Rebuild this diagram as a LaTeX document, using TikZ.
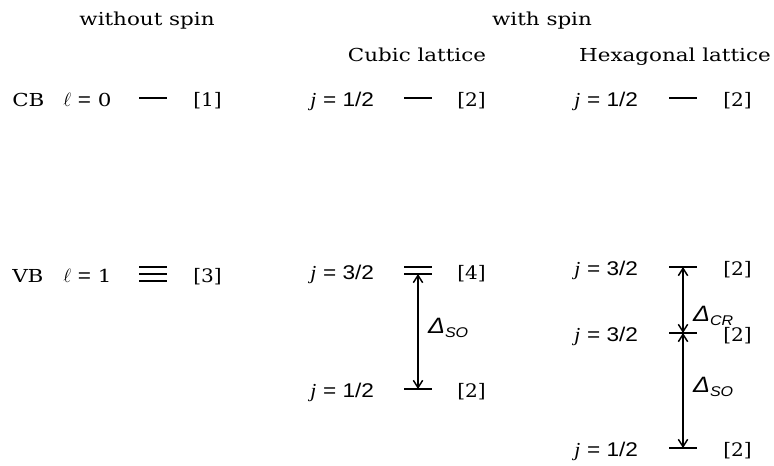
\documentclass[tikz,border=0pt]{standalone}
\usepackage{fontspec}
\setmainfont{DejaVu Serif}[FakeStretch=1.2]
\newfontfamily\brk{DejaVu Serif}[Scale=1.04,FakeStretch=1.08]
\newfontfamily\lsans{Liberation Sans}[Scale=1.11,FakeStretch=1.14]
\newfontfamily\lserif{Liberation Serif}[Scale=1.11,FakeStretch=1.1]
\usetikzlibrary{arrows.meta}
% j = ... label, degeneracy and splitting energy label
\newcommand{\jlab}[1]{{\lserif\itshape j} {\lsans= #1}}
\newcommand{\degen}[1]{{\brk[#1]}}
\newcommand{\gaplab}[1]{{\fontsize{15}{16}\lsans\itshape Δ}\raisebox{-3pt}{\fontsize{9.5}{10}\lsans\itshape #1}}

\begin{document}
\begin{tikzpicture}[x=0.75pt, y=-0.75pt, font=\fontsize{13.4}{16}\selectfont,
  level/.style={line width=2.2pt},
  split/.style={{Straight Barb[length=5.5pt,width=7pt]}-{Straight Barb[length=5.5pt,width=7pt]}, line width=1.1pt},
  txt/.style={anchor=base west, inner sep=0pt},
  gap/.style={anchor=west, inner sep=0pt, xshift=7pt}]
  \def\hw{14} % halbe Linienlaenge
  \useasboundingbox (0,0) rectangle (774,465);

  % Ueberschriften
  \node[anchor=base] (nospin) at (147,25) {without spin};
  \node[anchor=base] (wspin) at (542,25) {with spin};
  \node[anchor=base] (cubic) at (417,61) {Cubic lattice};
  \node[anchor=base] (hexa) at (675,61) {Hexagonal lattice};

  % Niveaus
  \coordinate (cb0) at (153,98);
  \coordinate (vb0) at (153,274);
  \coordinate (cbc) at (418,98);
  \coordinate (vbc) at (418,274);
  \coordinate (soc) at (418,389);
  \coordinate (cbh) at (683,98);
  \coordinate (vbh) at (683,267);
  \coordinate (crh) at (683,333);
  \coordinate (soh) at (683,448);

  % ohne Spin
  \node[txt] (cbname) at (12,106) {CB};
  \node[txt] (cbl) at (63,106) {$\ell$ {\lsans=} 0};
  \draw[level] (cb0) ++(-\hw,0) -- ++(2*\hw,0);
  \node[txt] (cbdeg) at (193,106) {\degen{1}};
  \node[txt] (vbname) at (12,282) {VB};
  \node[txt] (vbl) at (63,282) {$\ell$ {\lsans=} 1};
  \foreach \dy in {-7,0,7}
    \draw[level] (vb0) ++(-\hw,\dy) -- ++(2*\hw,0);
  \node[txt] (vbdeg) at (193,282) {\degen{3}};

  % kubisch
  \node[txt] (cbcj) at (310,106) {\jlab{1/2}};
  \draw[level] (cbc) ++(-\hw,0) -- ++(2*\hw,0);
  \node[txt] (cbcdeg) at (457,106) {\degen{2}};
  \node[txt] (vbcj) at (310,279) {\jlab{3/2}};
  \draw[level] (vbc) ++(-\hw,0) -- ++(2*\hw,0);
  \draw[level] (vbc) ++(-\hw,-7) -- ++(2*\hw,0);
  \node[txt] (vbcdeg) at (457,279) {\degen{4}};
  \node[txt] (socj) at (310,397) {\jlab{1/2}};
  \draw[level] (soc) ++(-\hw,0) -- ++(2*\hw,0);
  \node[txt] (socdeg) at (457,397) {\degen{2}};
  \draw[split] (vbc) -- node[gap, pos=0.47] (dsoc) {\gaplab{SO}} (soc);

  % hexagonal
  \node[txt] (cbhj) at (574,106) {\jlab{1/2}};
  \draw[level] (cbh) ++(-\hw,0) -- ++(2*\hw,0);
  \node[txt] (cbhdeg) at (723,106) {\degen{2}};
  \node[txt] (vbhj) at (574,275) {\jlab{3/2}};
  \draw[level] (vbh) ++(-\hw,0) -- ++(2*\hw,0);
  \node[txt] (vbhdeg) at (723,275) {\degen{2}};
  \node[txt] (crhj) at (574,341) {\jlab{3/2}};
  \draw[level] (crh) ++(-\hw,0) -- ++(2*\hw,0);
  \node[txt] (crhdeg) at (723,341) {\degen{2}};
  \node[txt] (sohj) at (574,456) {\jlab{1/2}};
  \draw[level] (soh) ++(-\hw,0) -- ++(2*\hw,0);
  \node[txt] (sohdeg) at (723,456) {\degen{2}};
  \draw[split] (vbh) -- node[gap, pos=0.74] (dcrh) {\gaplab{CR}} (crh);
  \draw[split] (crh) -- node[gap, pos=0.47] (dsoh) {\gaplab{SO}} (soh);
\end{tikzpicture}
\end{document}
